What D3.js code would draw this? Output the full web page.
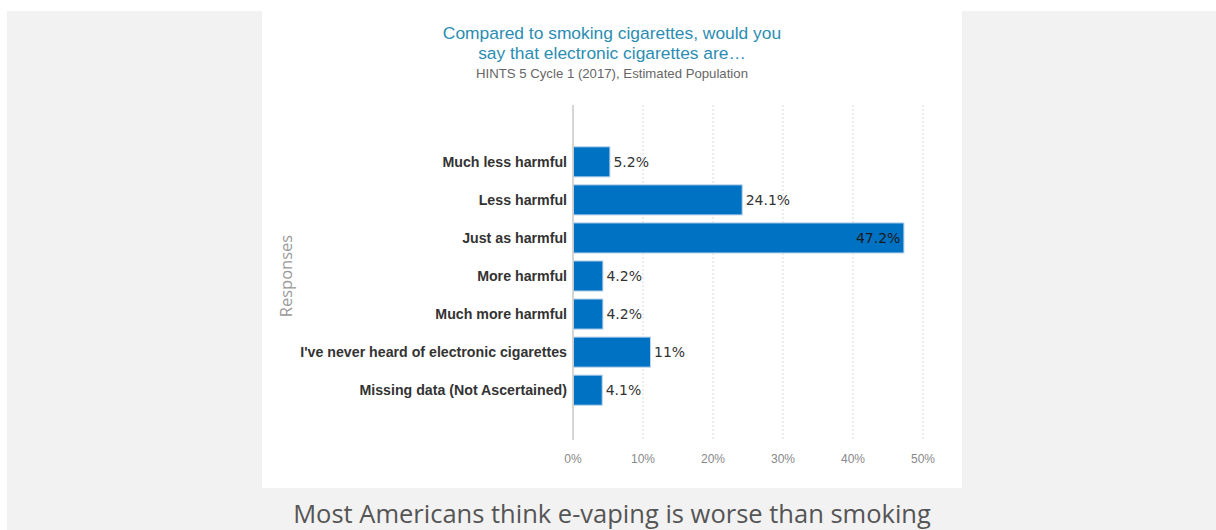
<!DOCTYPE html>
<html>
<head>
<meta charset="utf-8">
<script src="https://cdn.jsdelivr.net/npm/d3@7"></script>
<style>
  html, body { margin: 0; padding: 0; background: #ffffff; }
  svg { display: block; }
</style>
</head>
<body>
<svg id="chart" width="1216" height="530"></svg>
<script>
const categories = [
  "Much less harmful",
  "Less harmful",
  "Just as harmful",
  "More harmful",
  "Much more harmful",
  "I've never heard of electronic cigarettes",
  "Missing data (Not Ascertained)"
];
const values = [5.2, 24.1, 47.2, 4.2, 4.2, 11, 4.1];
const valueLabels = ["5.2%", "24.1%", "47.2%", "4.2%", "4.2%", "11%", "4.1%"];
const xTicks = [0, 10, 20, 30, 40, 50];
const titleLines = ["Compared to smoking cigarettes, would you", "say that electronic cigarettes are\u2026"];
const subtitle = "HINTS 5 Cycle 1 (2017), Estimated Population";
const yAxisTitle = "Responses";
const caption = "Most Americans think e-vaping is worse than smoking";

const svg = d3.select("#chart");

// page background
svg.append("rect").attr("x", 7).attr("y", 11).attr("width", 1209).attr("height", 519).attr("fill", "#f2f2f2");
// white panel
svg.append("rect").attr("x", 262).attr("y", 11).attr("width", 700).attr("height", 477).attr("fill", "#ffffff");

const x = d3.scaleLinear().domain([0, 50]).range([573, 923]);
const y = d3.scaleBand().domain(categories).range([143, 409]).paddingInner(0.21).paddingOuter(0.1);
const plotTop = 105, plotBottom = 440;

// gridlines
svg.append("g").selectAll("line").data(xTicks.filter(d => d > 0)).join("line")
  .attr("x1", d => x(d)).attr("x2", d => x(d))
  .attr("y1", plotTop).attr("y2", plotBottom)
  .attr("stroke", "#d9d9d9").attr("stroke-width", 1).attr("stroke-dasharray", "2,2");

// x tick labels
svg.append("g").selectAll("text").data(xTicks).join("text")
  .attr("x", d => x(d)).attr("y", 463)
  .attr("text-anchor", "middle")
  .attr("font-family", "Liberation Sans, Arial, sans-serif")
  .attr("font-size", 12).attr("fill", "#888")
  .text(d => d + "%");

// bars
svg.append("g").selectAll("rect").data(values).join("rect")
  .attr("x", x(0) + 0.5)
  .attr("y", (d, i) => y(categories[i]))
  .attr("width", d => x(d) - x(0))
  .attr("height", y.bandwidth())
  .attr("fill", "#0072c3")
  .attr("stroke", "#b9d3ec").attr("stroke-width", 1);

// axis line
svg.append("line").attr("x1", x(0)).attr("x2", x(0)).attr("y1", plotTop).attr("y2", plotBottom)
  .attr("stroke", "#c8c8c8").attr("stroke-width", 1.5);

// value labels
svg.append("g").selectAll("text").data(values).join("text")
  .attr("x", (d, i) => d > 40 ? x(d) - 3 : x(d) + 4)
  .attr("y", (d, i) => y(categories[i]) + y.bandwidth() / 2 + 5)
  .attr("text-anchor", d => d > 40 ? "end" : "start")
  .attr("font-family", "DejaVu Sans, sans-serif")
  .attr("font-size", 14).attr("fill", d => d > 40 ? "#1a1a1a" : "#333")
  .text((d, i) => valueLabels[i]);

// category labels
svg.append("g").selectAll("text").data(categories).join("text")
  .attr("x", 567)
  .attr("y", d => y(d) + y.bandwidth() / 2 + 5)
  .attr("text-anchor", "end")
  .attr("font-family", "Liberation Sans, Arial, sans-serif")
  .attr("font-weight", "bold")
  .attr("font-size", 14.2).attr("fill", "#333")
  .text(d => d);

// y axis title
svg.append("text")
  .attr("transform", "translate(292,276) rotate(-90)")
  .attr("text-anchor", "middle")
  .attr("font-family", "Open Sans, sans-serif")
  .attr("font-size", 16.5).attr("fill", "#999")
  .text(yAxisTitle);

// title
svg.append("g").selectAll("text").data(titleLines).join("text")
  .attr("x", 612).attr("y", (d, i) => 39 + i * 20)
  .attr("text-anchor", "middle")
  .attr("font-family", "Liberation Sans, Arial, sans-serif")
  .attr("font-size", 17.4).attr("fill", "#2b8db3")
  .text(d => d);

svg.append("text")
  .attr("x", 612).attr("y", 78)
  .attr("text-anchor", "middle")
  .attr("font-family", "Liberation Sans, Arial, sans-serif")
  .attr("font-size", 13.2).attr("fill", "#666")
  .text(subtitle);

// caption
svg.append("text")
  .attr("x", 612).attr("y", 523)
  .attr("text-anchor", "middle")
  .attr("font-family", "Open Sans, sans-serif")
  .attr("font-size", 25.5).attr("fill", "#555")
  .text(caption);
</script>
</body>
</html>
